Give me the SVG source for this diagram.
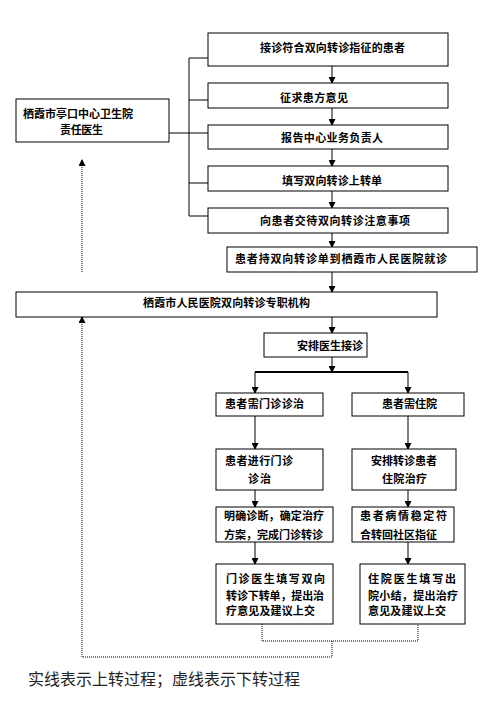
<svg xmlns="http://www.w3.org/2000/svg" width="491" height="707" viewBox="0 0 491 707">
<style>
.b{fill:#fff;stroke:#000;stroke-width:1}
.t{font-family:"Noto Sans CJK SC","Noto Sans CJK JP",sans-serif;font-size:11px;font-weight:bold;fill:#000}
.l{fill:none;stroke:#000;stroke-width:1}
.d{fill:none;stroke:#000;stroke-width:1;stroke-dasharray:1 1}
</style>
<defs>
<marker id="a" markerWidth="7" markerHeight="7" refX="6" refY="3.5" orient="auto" markerUnits="userSpaceOnUse">
<path d="M0,0 L7,3.5 L0,7 Z" fill="#000"/>
</marker>
</defs>
<rect width="491" height="707" fill="#fff"/>
<g id="connectors">
<path class="l" d="M189,58 V216 M189,58 H208 M189,100 H208 M169,133 H208 M189,183 H208 M189,216 H208"/>
<path class="l" marker-end="url(#a)" d="M332,66 V83"/>
<path class="l" marker-end="url(#a)" d="M332,108 V125"/>
<path class="l" marker-end="url(#a)" d="M332,149 V166"/>
<path class="l" marker-end="url(#a)" d="M332,191 V208"/>
<path class="l" marker-end="url(#a)" d="M332,233 V247"/>
<path class="l" marker-end="url(#a)" d="M332,272 V292"/>
<path class="l" marker-end="url(#a)" d="M332,317 V333"/>
<path class="l" marker-end="url(#a)" d="M332,357 V372"/>
<path fill="none" stroke="#000" stroke-width="2" d="M255,372 H408"/>
<path class="l" marker-end="url(#a)" d="M255,372 V393"/>
<path class="l" marker-end="url(#a)" d="M408,372 V393"/>
<path class="l" marker-end="url(#a)" d="M255,416 V449"/>
<path class="l" marker-end="url(#a)" d="M408,416 V449"/>
<path class="l" marker-end="url(#a)" d="M255,490 V507"/>
<path class="l" marker-end="url(#a)" d="M408,490 V507"/>
<path class="l" marker-end="url(#a)" d="M255,542 V564"/>
<path class="l" marker-end="url(#a)" d="M408,542 V564"/>
<path class="d" d="M262,624 V641 H418 V624 M332,641 V657 H82 V317"/>
<path class="l" marker-end="url(#a)" d="M82,320 V317"/>
<path class="d" d="M82,272 V162"/>
<path class="l" marker-end="url(#a)" d="M82,164 V160"/>
</g>
<g id="n1"><rect class="b" x="208" y="33" width="240" height="33"/><text class="t" x="260" y="52" textLength="145">接诊符合双向转诊指征的患者</text></g>
<g id="n2"><rect class="b" x="208" y="83" width="240" height="25"/><text class="t" x="280" y="102" textLength="68">征求患方意见</text></g>
<g id="n3"><rect class="b" x="208" y="125" width="240" height="24"/><text class="t" x="281" y="142" textLength="102">报告中心业务负责人</text></g>
<g id="n4"><rect class="b" x="208" y="166" width="240" height="25"/><text class="t" x="282" y="185" textLength="100">填写双向转诊上转单</text></g>
<g id="n5"><rect class="b" x="208" y="208" width="240" height="25"/><text class="t" x="260" y="225" textLength="150">向患者交待双向转诊注意事项</text></g>
<g id="left"><rect class="b" x="16" y="99" width="153" height="43"/><text class="t" x="23" y="118" textLength="110">栖霞市亭口中心卫生院</text><text class="t" x="60" y="134" textLength="43">责任医生</text></g>
<g id="n6"><rect class="b" x="227" y="247" width="250" height="25"/><text class="t" x="235" y="263" textLength="212">患者持双向转诊单到栖霞市人民医院就诊</text></g>
<g id="wide"><rect class="b" x="16" y="292" width="421" height="25"/><text class="t" x="143" y="307" textLength="167">栖霞市人民医院双向转诊专职机构</text></g>
<g id="n7"><rect class="b" x="264" y="333" width="103" height="24"/><text class="t" x="297" y="350" textLength="66">安排医生接诊</text></g>
<g id="n8"><rect class="b" x="216" y="393" width="107" height="23"/><text class="t" x="225" y="408" textLength="79">患者需门诊诊治</text></g>
<g id="n9"><rect class="b" x="352" y="393" width="112" height="23"/><text class="t" x="382" y="408" textLength="55">患者需住院</text></g>
<g id="n10"><rect class="b" x="216" y="449" width="107" height="41"/><text class="t" x="225" y="465" textLength="68">患者进行门诊</text><text class="t" x="248" y="483" textLength="23">诊治</text></g>
<g id="n11"><rect class="b" x="352" y="449" width="104" height="41"/><text class="t" x="371" y="465" textLength="66">安排转诊患者</text><text class="t" x="382" y="483" textLength="45">住院治疗</text></g>
<g id="n12"><rect class="b" x="216" y="507" width="117" height="35"/><text class="t" x="224" y="520" textLength="100">明确诊断，确定治疗</text><text class="t" x="224" y="539" textLength="99">方案，完成门诊转诊</text></g>
<g id="n13"><rect class="b" x="352" y="507" width="102" height="35"/><text class="t" x="360" y="520" textLength="87">患者病情稳定符</text><text class="t" x="360" y="539" textLength="77">合转回社区指征</text></g>
<g id="n14"><rect class="b" x="216" y="564" width="117" height="60"/><text class="t" x="226" y="583" textLength="99">门诊医生填写双向</text><text class="t" x="226" y="600" textLength="98">转诊下转单，提出治</text><text class="t" x="226" y="615" textLength="89">疗意见及建议上交</text></g>
<g id="n15"><rect class="b" x="360" y="564" width="105" height="60"/><text class="t" x="368" y="583" textLength="88">住院医生填写出</text><text class="t" x="368" y="600" textLength="90">院小结，提出治疗</text><text class="t" x="368" y="615" textLength="78">意见及建议上交</text></g>
<text x="28" y="685" textLength="272" style="font-family:'Noto Sans CJK SC',sans-serif;font-size:16px;fill:#222">实线表示上转过程；虚线表示下转过程</text>
</svg>
